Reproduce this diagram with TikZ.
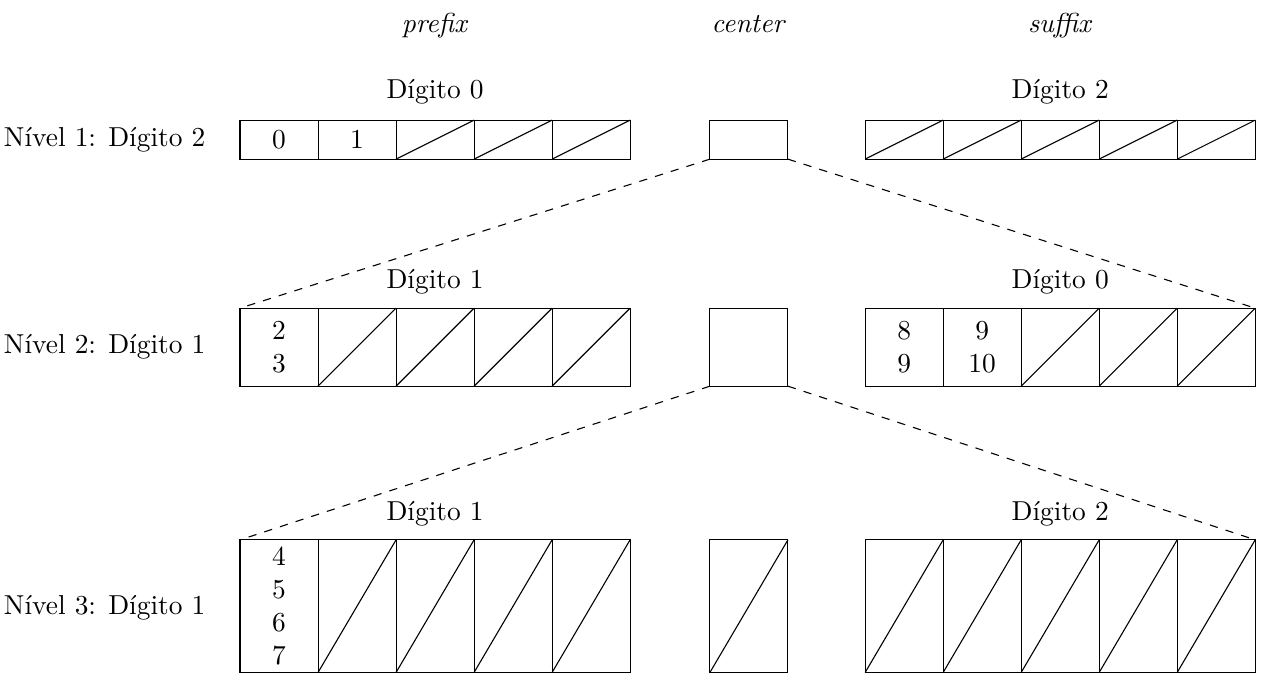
\documentclass[tikz,border=0pt]{standalone}
\begin{document}
\begin{tikzpicture}[
  cell/.style={draw,minimum width=1cm,inner sep=0pt,outer sep=0pt,align=center},
  level/.style={anchor=east,inner sep=0pt},
  link/.style={dashed}]

\useasboundingbox (0,0) rectangle (16.19,-8.654);

% Column headings
\node[anchor=base] (hp) at (5.577,-.42) {\textit{prefix}};
\node[anchor=base] (hc) at (9.60,-.42) {\textit{center}};
\node[anchor=base] (hs) at (13.59,-.42) {\textit{suffix}};

% Level 1
\node[level] (l1) at (2.64,-1.79) {Nível 1: Dígito 2};
\node (dp1) at (5.577,-1.18) {Dígito 0};
\node (ds1) at (13.59,-1.18) {Dígito 2};
\foreach \i/\t in {1/0,2/1,3/,4/,5/}
  \node[cell,minimum height=.5cm] (p1\i) at ({2.577+\i},-1.79) {\t};
\node[cell,minimum height=.5cm] (c1) at (9.60,-1.79) {};
\foreach \i in {1,...,5}
  \node[cell,minimum height=.5cm] (s1\i) at ({10.59+\i},-1.79) {};
\foreach \n in {p13,p14,p15,s11,s12,s13,s14,s15}
  \draw (\n.south west) -- (\n.north east);

% Level 2
\node[level] (l2) at (2.64,-4.45) {Nível 2: Dígito 1};
\node (dp2) at (5.577,-3.615) {Dígito 1};
\node (ds2) at (13.59,-3.615) {Dígito 0};
\foreach \i/\t in {1/{2\\3},2/,3/,4/,5/}
  \node[cell,minimum height=1cm] (p2\i) at ({2.577+\i},-4.45) {\t};
\node[cell,minimum height=1cm] (c2) at (9.60,-4.45) {};
\foreach \i/\t in {1/{8\\9},2/{9\\10},3/,4/,5/}
  \node[cell,minimum height=1cm] (s2\i) at ({10.59+\i},-4.45) {\t};
\foreach \n in {p22,p23,p24,p25,s23,s24,s25}
  \draw (\n.south west) -- (\n.north east);

% Level 3
\node[level] (l3) at (2.64,-7.79) {Nível 3: Dígito 1};
\node (dp3) at (5.577,-6.59) {Dígito 1};
\node (ds3) at (13.59,-6.59) {Dígito 2};
\foreach \i/\t in {1/{4\\5\\6\\7},2/,3/,4/,5/}
  \node[cell,minimum height=1.7cm] (p3\i) at ({2.577+\i},-7.77) {\t};
\node[cell,minimum height=1.7cm] (c3) at (9.60,-7.77) {};
\foreach \i in {1,...,5}
  \node[cell,minimum height=1.7cm] (s3\i) at ({10.59+\i},-7.77) {};
\foreach \n in {p32,p33,p34,p35,c3,s31,s32,s33,s34,s35}
  \draw (\n.south west) -- (\n.north east);

% Expansion of the center
\draw[link] (c1.south west) -- (p21.north west);
\draw[link] (c1.south east) -- (s25.north east);
\draw[link] (c2.south west) -- (p31.north west);
\draw[link] (c2.south east) -- (s35.north east);

\end{tikzpicture}
\end{document}
